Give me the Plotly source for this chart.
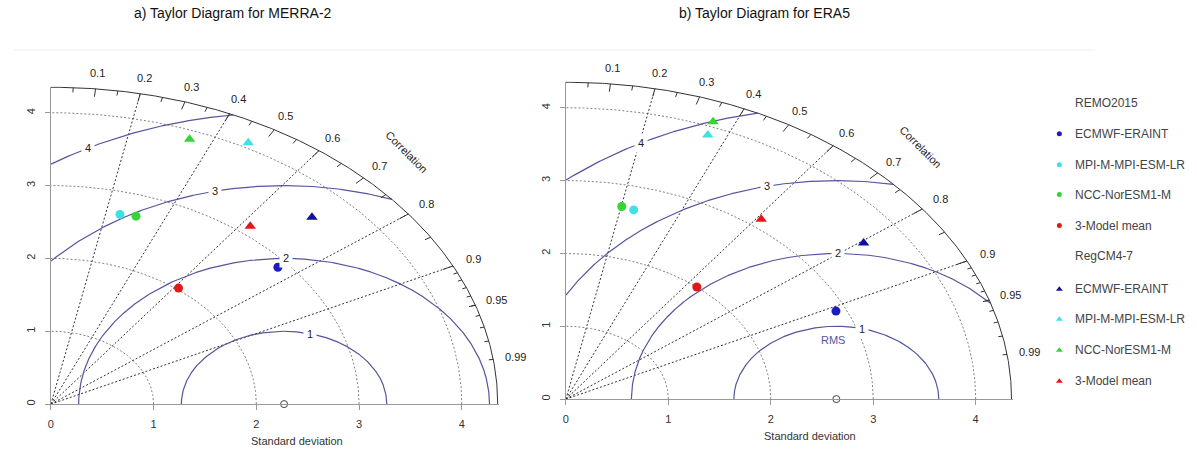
import numpy as np
import plotly.graph_objects as go

# ---------------- data ----------------
models = ["ECMWF-ERAINT", "MPI-M-MPI-ESM-LR", "NCC-NorESM1-M", "3-Model mean"]
group_names = ["REMO2015", "RegCM4-7"]
panel_titles = ["a) Taylor Diagram for MERRA-2", "b) Taylor Diagram for ERA5"]

# a) MERRA-2
merra_ref_sd = 2.27
merra_remo_sd = [2.90, 2.69, 2.71, 2.02]
merra_remo_cor = [0.762, 0.250, 0.306, 0.615]
merra_regcm_sd = [3.61, 4.07, 3.88, 3.12]
merra_regcm_cor = [0.704, 0.472, 0.348, 0.622]

# b) ERA5
era5_ref_sd = 2.64
era5_remo_sd = [2.90, 2.68, 2.70, 2.00]
era5_remo_cor = [0.909, 0.247, 0.202, 0.639]
era5_regcm_sd = [3.61, 3.88, 4.07, 3.12]
era5_regcm_cor = [0.805, 0.357, 0.353, 0.611]

max_sd = 4.35
sd_ticks = [0, 1, 2, 3, 4]
sd_arcs = [1, 2, 3, 4]
rms_levels = [1, 2, 3, 4]
corr_grid = [0.2, 0.4, 0.6, 0.8, 0.9]
corr_labels = [0.1, 0.2, 0.3, 0.4, 0.5, 0.6, 0.7, 0.8, 0.9, 0.95, 0.99]

# ---------------- style / layout ----------------
circle_colors = ["#1c1cc4", "#3fe0e6", "#33d633", "#e01818"]
triangle_colors = ["#10109e", "#3fe0e6", "#33d633", "#e01818"]
rms_color = "#55559c"
font_family = "Liberation Sans, Arial, sans-serif"
W, H = 1197, 449
AX_MAX = 4.36
# pixel boxes of the two plotting areas: (left px, right px, bottom px, top px)
panel_boxes = {
    "a": (48.0, 497.0, 405.0, 86.7),
    "b": (564.3, 1012.1, 400.0, 81.7),
}

fig = go.Figure()
annotations = []


def to_paper(box, x, y):
    l, r, b, t = box
    px = l + (r - l) * x / AX_MAX
    py = b - (b - t) * y / AX_MAX
    return px / W, 1 - py / H


def add_panel(key, xr, yr, ref_sd, remo_sd, remo_cor, regcm_sd, regcm_cor, show_rms_label):
    box = panel_boxes[key]
    t = np.linspace(0, np.pi / 2, 400)

    # std dev arcs (dotted)
    xs, ys = [], []
    for s in sd_arcs:
        xs += list(s * np.cos(t)) + [None]
        ys += list(s * np.sin(t)) + [None]
    fig.add_trace(go.Scatter(x=xs, y=ys, mode="lines", xaxis=xr, yaxis=yr,
                             line=dict(color="#808080", width=1, dash="2px,2px"),
                             hoverinfo="skip", showlegend=False))
    # correlation grid lines
    xs, ys = [], []
    for c in corr_grid:
        a = np.arccos(c)
        xs += [0, max_sd * np.cos(a), None]
        ys += [0, max_sd * np.sin(a), None]
    fig.add_trace(go.Scatter(x=xs, y=ys, mode="lines", xaxis=xr, yaxis=yr,
                             line=dict(color="#333333", width=1, dash="2px,2px"),
                             hoverinfo="skip", showlegend=False))
    # RMS contours centred on reference
    tt = np.linspace(0, np.pi, 3000)
    xs, ys = [], []
    for r in rms_levels:
        cx = ref_sd + r * np.cos(tt)
        cy = r * np.sin(tt)
        ok = (cx >= 0) & (np.hypot(cx, cy) <= max_sd)
        xs += [float(v) if k else None for v, k in zip(cx, ok)] + [None]
        ys += [float(v) if k else None for v, k in zip(cy, ok)] + [None]
    fig.add_trace(go.Scatter(x=xs, y=ys, mode="lines", xaxis=xr, yaxis=yr,
                             line=dict(color=rms_color, width=1.2),
                             connectgaps=False, hoverinfo="skip", showlegend=False))
    # outer arc
    fig.add_trace(go.Scatter(x=list(max_sd * np.cos(t)), y=list(max_sd * np.sin(t)),
                             mode="lines", xaxis=xr, yaxis=yr,
                             line=dict(color="#333333", width=1),
                             hoverinfo="skip", showlegend=False))
    # ticks on outer arc
    xs, ys = [], []
    big = np.arange(1, 10) / 10
    med = np.arange(0.05, 0.96, 0.1)
    sml = np.arange(0.91, 0.995, 0.01)
    for vals, f in [(big, 0.975), (med, 0.985), (sml, 0.99)]:
        for c in vals:
            a = np.arccos(c)
            xs += [max_sd * np.cos(a), f * max_sd * np.cos(a), None]
            ys += [max_sd * np.sin(a), f * max_sd * np.sin(a), None]
    fig.add_trace(go.Scatter(x=xs, y=ys, mode="lines", xaxis=xr, yaxis=yr,
                             line=dict(color="#333333", width=1),
                             hoverinfo="skip", showlegend=False))
    # correlation labels (paper coords, they sit outside the axis range)
    for c in corr_labels:
        a = np.arccos(c)
        px, py = to_paper(box, 1.05 * max_sd * np.cos(a), 1.05 * max_sd * np.sin(a))
        annotations.append(dict(x=px, y=py, xref="paper", yref="paper", text=str(c),
                                showarrow=False, xanchor="center", yanchor="middle",
                                font=dict(size=11, color="#222222", family=font_family)))
    px, py = to_paper(box, 4.9 * np.cos(np.pi / 4), 4.9 * np.sin(np.pi / 4))
    annotations.append(dict(x=px, y=py, xref="paper", yref="paper", text="Correlation",
                            showarrow=False, textangle=45, xanchor="center", yanchor="middle",
                            font=dict(size=11, color="#222222", family=font_family)))
    # RMS labels
    for r, ang in zip(rms_levels, [75.5, 89.5, 103.0, 118.5]):
        a = np.radians(ang)
        annotations.append(dict(x=ref_sd + r * np.cos(a), y=r * np.sin(a),
                                xref=xr, yref=yr, text=str(r), showarrow=False,
                                bgcolor="white", borderpad=3,
                                font=dict(size=11, color="#222222", family=font_family)))
    if show_rms_label:
        annotations.append(dict(x=ref_sd - 0.03, y=0.81, xref=xr, yref=yr, text="RMS",
                                showarrow=False,
                                font=dict(size=11, color=rms_color, family=font_family)))
    # reference point
    fig.add_trace(go.Scatter(x=[ref_sd], y=[0], mode="markers", xaxis=xr, yaxis=yr,
                             marker=dict(symbol="circle-open", size=7, color="#444444",
                                         line=dict(width=1)),
                             cliponaxis=False, hoverinfo="skip", showlegend=False))
    # model points
    for sd, cor, sym, cols, size in [(remo_sd, remo_cor, "circle", circle_colors, 9),
                                     (regcm_sd, regcm_cor, "triangle-up", triangle_colors, 10)]:
        sd = np.array(sd)
        cor = np.array(cor)
        fig.add_trace(go.Scatter(x=sd * cor, y=sd * np.sqrt(1 - cor ** 2), mode="markers",
                                 xaxis=xr, yaxis=yr, text=models,
                                 marker=dict(symbol=sym, size=size, color=cols),
                                 cliponaxis=False, showlegend=False))


add_panel("a", "x", "y", merra_ref_sd, merra_remo_sd, merra_remo_cor,
          merra_regcm_sd, merra_regcm_cor, False)
add_panel("b", "x2", "y2", era5_ref_sd, era5_remo_sd, era5_remo_cor,
          era5_regcm_sd, era5_regcm_cor, True)

# ---------------- custom legend ----------------
leg_rows = [134, 165, 195, 226, 290, 320, 351, 382]
head_rows = [103, 257]
leg_x_marker, leg_x_text = 1059, 1073
for gi, (sym, cols, size) in enumerate([("circle", circle_colors, 5),
                                        ("triangle-up", triangle_colors, 6)]):
    rows = leg_rows[gi * 4:(gi + 1) * 4]
    fig.add_trace(go.Scatter(x=[leg_x_marker] * 4, y=rows, mode="markers",
                             xaxis="x3", yaxis="y3",
                             marker=dict(symbol=sym, size=size, color=cols),
                             hoverinfo="skip", showlegend=False))
    annotations.append(dict(x=leg_x_text, y=head_rows[gi], xref="x3", yref="y3",
                            text=group_names[gi], showarrow=False, xanchor="left",
                            font=dict(size=12, color="#444444", family=font_family)))
    for name, yv in zip(models, rows):
        annotations.append(dict(x=leg_x_text, y=yv, xref="x3", yref="y3", text=name,
                                showarrow=False, xanchor="left",
                                font=dict(size=12, color="#444444", family=font_family)))

# titles and axis titles
for txt, cx in zip(panel_titles, [231, 763]):
    annotations.append(dict(x=cx / W, y=1 - 13 / H, xref="paper", yref="paper", text=txt,
                            showarrow=False, xanchor="center", yanchor="middle",
                            font=dict(size=14, color="#111111", family=font_family)))
for cx, cy in [(295, 442), (809, 437)]:
    annotations.append(dict(x=cx / W, y=1 - cy / H, xref="paper", yref="paper",
                            text="Standard deviation", showarrow=False,
                            xanchor="center", yanchor="middle",
                            font=dict(size=11, color="#333333", family=font_family)))

axis_common = dict(range=[0, AX_MAX], tickvals=sd_ticks, showline=True, linecolor="#999999",
                   linewidth=1, ticks="outside", ticklen=5, tickcolor="#999999",
                   showgrid=False, zeroline=False, ticklabelstandoff=5,
                   tickfont=dict(size=11, color="#333333", family=font_family))


def dom(key):
    l, r, b, t = panel_boxes[key]
    return [l / W, r / W], [1 - b / H, 1 - t / H]


xa, ya = dom("a")
xb, yb = dom("b")
fig.update_layout(
    width=W, height=H, margin=dict(l=0, r=0, t=0, b=0),
    paper_bgcolor="white", plot_bgcolor="white",
    xaxis=dict(domain=xa, anchor="y", **axis_common),
    yaxis=dict(domain=ya, anchor="x", tickangle=-90, **axis_common),
    xaxis2=dict(domain=xb, anchor="y2", **axis_common),
    yaxis2=dict(domain=yb, anchor="x2", tickangle=-90, **axis_common),
    xaxis3=dict(domain=[1030 / W, 1.0], range=[1030, W], visible=False, anchor="y3"),
    yaxis3=dict(domain=[0, 1], range=[H, 0], visible=False, anchor="x3"),
    annotations=annotations,
    shapes=[dict(type="line", xref="paper", yref="paper", x0=11 / W, x1=1095 / W,
                 y0=1 - 50 / H, y1=1 - 50 / H, line=dict(color="#eeeeee", width=1))],
    showlegend=False,
)

fig.write_html("out.html")
